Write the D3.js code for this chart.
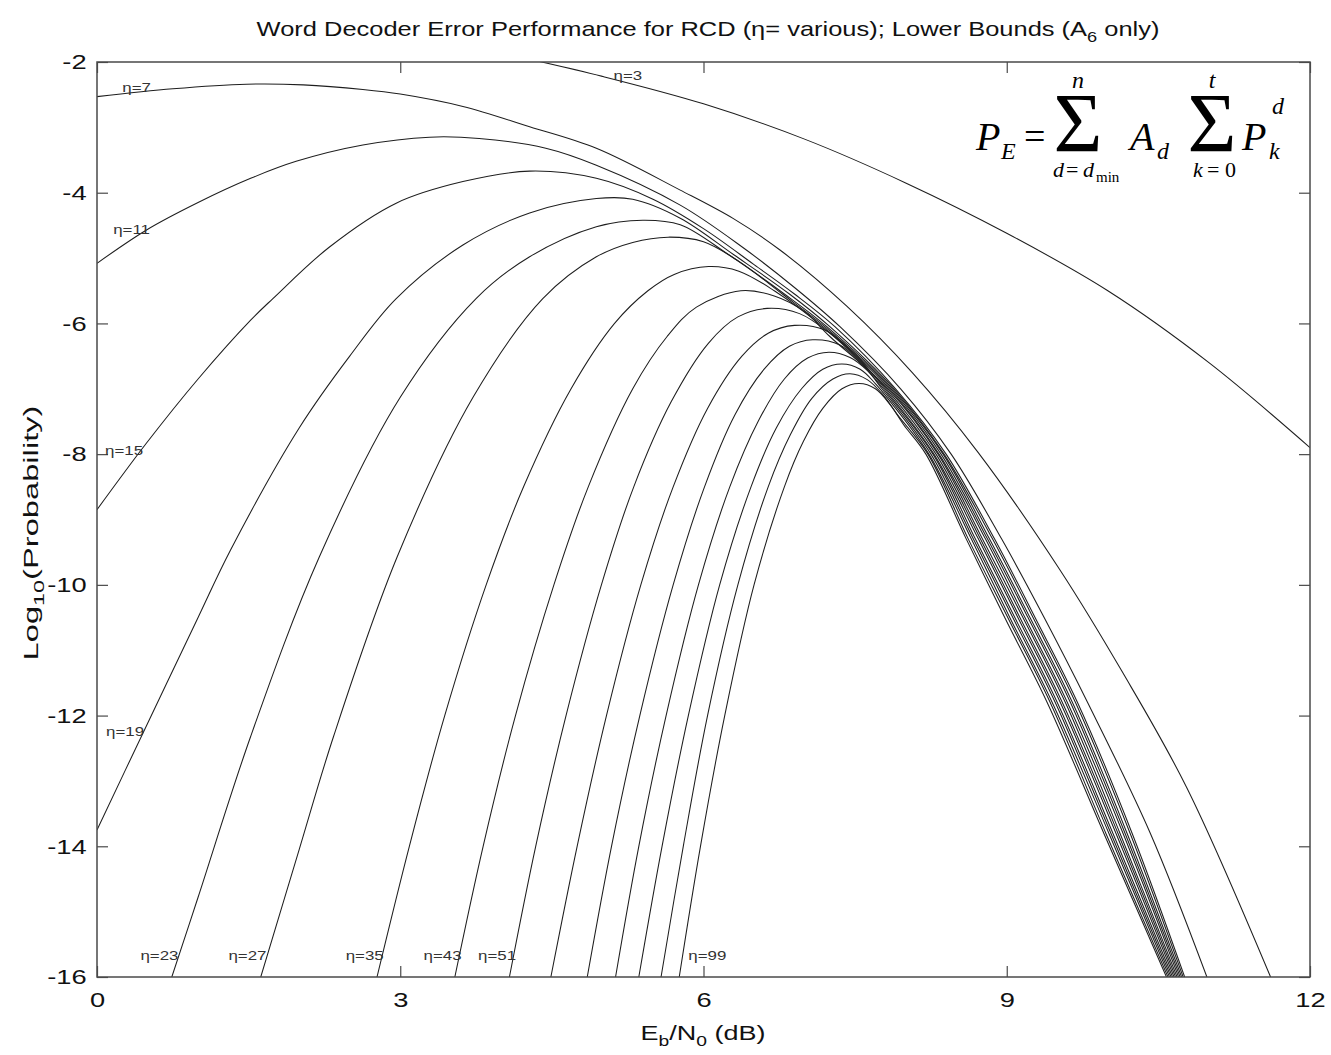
<!DOCTYPE html>
<html><head><meta charset="utf-8">
<script src="https://cdn.jsdelivr.net/npm/d3@7"></script>
<style>body{margin:0;background:#fff}svg{display:block}</style>
</head><body>
<svg id="c" width="1331" height="1055"></svg>
<script>
// ---------------- data ----------------
const xDomain = [0, 12];
const yDomain = [-16, -2];
const xTicks = [0, 3, 6, 9, 12];
const yTicks = [-2, -4, -6, -8, -10, -12, -14, -16];
const etaValues = [3, 7, 11, 15, 19, 23, 27, 35, 43, 51, 59, 67, 75, 83, 91, 99];

const eta3 = [[4.2,-1.93],[5.0,-2.22],[6.0,-2.64],[7.0,-3.18],[8.0,-3.85],[9.0,-4.62],[10.0,-5.5],[11.0,-6.6],[12.0,-7.9]];
const eta7 = [[0,-2.53],[0.75,-2.41],[1.48,-2.34],[2.04,-2.35],[2.63,-2.42],[3.0,-2.49],[3.62,-2.68],[4.28,-2.99],[4.94,-3.32],[5.77,-3.96],[6.3,-4.4],[6.76,-4.88],[7.42,-5.74],[8.07,-6.76],[8.72,-7.98],[9.53,-9.78],[10.15,-11.35],[10.78,-13.1],[11.61,-16]];
const eta11 = [[0,-5.08],[0.49,-4.57],[1.0,-4.15],[1.52,-3.78],[1.97,-3.52],[2.63,-3.27],[3.29,-3.15],[3.78,-3.17],[4.44,-3.32],[4.94,-3.58],[5.77,-4.19],[6.4,-4.85],[6.9,-5.45],[7.35,-6.05],[7.95,-7.0],[8.45,-8.0],[8.95,-9.3],[9.37,-10.5],[9.8,-11.8],[10.42,-13.8],[10.98,-16]];
const eta15 = [[0,-8.85],[0.49,-7.83],[1.0,-6.85],[1.52,-5.95],[1.74,-5.62],[2.3,-4.83],[2.96,-4.16],[3.62,-3.83],[4.28,-3.67],[4.94,-3.78],[5.5,-4.1],[6.0,-4.55],[6.5,-5.1],[6.9,-5.55],[7.3,-6.05],[7.9,-7.0],[8.4,-8.0],[8.88,-9.3],[9.28,-10.5],[9.7,-11.8],[10.24,-13.8],[10.76,-16]];
const eta19 = [[0,-13.75],[0.46,-12.25],[1.0,-10.5],[1.32,-9.47],[2.0,-7.6],[2.5,-6.5],[2.96,-5.62],[3.62,-4.8],[4.28,-4.31],[4.94,-4.09],[5.3,-4.1],[5.77,-4.39],[6.3,-4.95],[6.85,-5.55],[7.25,-6.05],[7.885,-7.0],[8.38,-8.0],[8.86,-9.3],[9.26,-10.5],[9.68,-11.8],[10.22,-13.8],[10.745,-16]];
const eta23 = [[0.74,-16],[1.0,-14.78],[1.52,-12.32],[2.2,-9.57],[3.0,-7.13],[3.75,-5.62],[4.28,-4.98],[4.94,-4.52],[5.4,-4.42],[5.77,-4.49],[6.25,-4.95],[6.8,-5.55],[7.22,-6.05],[7.87,-7.0],[8.37,-8.0],[8.83,-9.3],[9.23,-10.5],[9.65,-11.8],[10.19,-13.8],[10.73,-16]];
const eta27 = [[1.62,-16],[2.0,-14.05],[2.34,-12.32],[2.97,-9.57],[3.72,-7.13],[4.41,-5.62],[4.94,-4.98],[5.3,-4.76],[5.65,-4.68],[6.0,-4.75],[6.35,-5.05],[6.78,-5.55],[7.2,-6.05],[7.855,-7.0],[8.35,-8.0],[8.81,-9.3],[9.21,-10.5],[9.63,-11.8],[10.17,-13.8],[10.715,-16]];
const eta35 = [[2.77,-16],[3.09,-14],[3.44,-12],[3.85,-10],[4.22,-8.5],[4.69,-7.0],[5.12,-6.0],[5.45,-5.5],[5.71,-5.25],[6.05,-5.13],[6.35,-5.2],[6.7,-5.5],[7.18,-6.05],[7.84,-7.0],[8.33,-8.0],[8.79,-9.3],[9.18,-10.5],[9.6,-11.8],[10.15,-13.8],[10.7,-16]];
const eta43 = [[3.54,-16],[3.82,-14],[4.14,-12],[4.52,-10],[4.86,-8.5],[5.3,-7.0],[5.64,-6.2],[5.93,-5.75],[6.37,-5.5],[6.7,-5.58],[7.0,-5.82],[7.25,-6.2],[7.825,-7.0],[8.32,-8.0],[8.76,-9.3],[9.16,-10.5],[9.58,-11.8],[10.12,-13.8],[10.685,-16]];
const eta51 = [[4.08,-16],[4.34,-14],[4.64,-12],[4.99,-10],[5.31,-8.5],[5.68,-7.2],[6.05,-6.3],[6.34,-5.9],[6.63,-5.77],[6.95,-5.85],[7.25,-6.15],[7.5,-6.5],[7.81,-7.0],[8.3,-8.0],[8.74,-9.3],[9.13,-10.5],[9.55,-11.8],[10.1,-13.8],[10.67,-16]];
const eta59 = [[4.49,-16],[4.75,-14],[5.04,-12],[5.38,-10],[5.7,-8.5],[6.04,-7.3],[6.38,-6.5],[6.64,-6.15],[6.9,-6.03],[7.2,-6.1],[7.45,-6.4],[7.795,-7.0],[8.28,-8.0],[8.72,-9.3],[9.11,-10.5],[9.53,-11.8],[10.08,-13.8],[10.655,-16]];
const eta67 = [[4.85,-16],[5.09,-14],[5.37,-12],[5.7,-10],[6.01,-8.5],[6.31,-7.4],[6.6,-6.7],[6.85,-6.35],[7.08,-6.25],[7.35,-6.33],[7.55,-6.6],[7.78,-7.0],[8.27,-8.0],[8.69,-9.3],[9.08,-10.5],[9.5,-11.8],[10.05,-13.8],[10.64,-16]];
const eta75 = [[5.13,-16],[5.36,-14],[5.63,-12],[5.95,-10],[6.26,-8.5],[6.54,-7.5],[6.8,-6.85],[7.03,-6.53],[7.24,-6.44],[7.45,-6.52],[7.62,-6.72],[7.765,-7.0],[8.25,-8.0],[8.67,-9.3],[9.06,-10.5],[9.48,-11.8],[10.03,-13.8],[10.625,-16]];
const eta83 = [[5.36,-16],[5.59,-14],[5.85,-12],[6.16,-10],[6.47,-8.5],[6.72,-7.6],[6.97,-7.0],[7.18,-6.7],[7.37,-6.62],[7.55,-6.7],[7.7,-6.92],[7.85,-7.2],[8.23,-8.0],[8.65,-9.3],[9.03,-10.5],[9.45,-11.8],[10.01,-13.8],[10.61,-16]];
const eta91 = [[5.58,-16],[5.8,-14],[6.04,-12],[6.34,-10],[6.64,-8.5],[6.86,-7.7],[7.07,-7.15],[7.28,-6.85],[7.45,-6.77],[7.62,-6.86],[7.78,-7.1],[7.92,-7.4],[8.22,-8.0],[8.62,-9.3],[9.01,-10.5],[9.43,-11.8],[9.98,-13.8],[10.595,-16]];
const eta99 = [[5.76,-16],[5.97,-14],[6.21,-12],[6.5,-10],[6.8,-8.5],[6.99,-7.8],[7.18,-7.3],[7.37,-7.0],[7.54,-6.92],[7.7,-7.0],[7.85,-7.25],[7.98,-7.55],[8.2,-8.0],[8.6,-9.3],[8.98,-10.5],[9.4,-11.8],[9.96,-13.8],[10.58,-16]];

const series = [eta3, eta7, eta11, eta15, eta19, eta23, eta27, eta35, eta43, eta51, eta59, eta67, eta75, eta83, eta91, eta99];

const labelEtas = [3, 7, 11, 15, 19, 23, 27, 35, 43, 51, 99];
const labelX = [5.11, 0.25, 0.16, 0.08, 0.09, 0.43, 1.30, 2.46, 3.23, 3.77, 5.85];
const labelY = [-2.28, -2.46, -4.63, -8.01, -12.31, -15.74, -15.74, -15.74, -15.74, -15.74, -15.74];

// ---------------- layout ----------------
const W = 1331, H = 1055;
const M = {top: 62, right: 21, bottom: 78, left: 97};
const svg = d3.select("#c");
const FONT = "'Liberation Sans', Arial, Helvetica, sans-serif";
const SERIF = "'Liberation Serif', 'Times New Roman', serif";

const x = d3.scaleLinear().domain(xDomain).range([M.left, W - M.right]);
const y = d3.scaleLinear().domain(yDomain).range([H - M.bottom, M.top]);

svg.append("rect").attr("width", W).attr("height", H).attr("fill", "#fff");

svg.append("defs").append("clipPath").attr("id", "clip").append("rect")
  .attr("x", M.left).attr("y", M.top)
  .attr("width", W - M.left - M.right).attr("height", H - M.top - M.bottom);

// curves
const line = d3.line().x(d => x(d[0])).y(d => y(d[1])).curve(d3.curveCatmullRom.alpha(0.5));
svg.append("g").attr("clip-path", "url(#clip)")
  .selectAll("path").data(series).join("path")
  .attr("d", line).attr("fill", "none")
  .attr("stroke", "#1e1e1e").attr("stroke-width", 1.05);

// axes (MATLAB style inward ticks on all sides)
const TK = 11;
const axisColor = "#4a4a4a";
function styleAxis(g) {
  g.select(".domain").remove();
  g.selectAll(".tick line").attr("stroke", axisColor).attr("stroke-width", 1.2);
}
const gx = svg.append("g").attr("transform", `translate(0,${H - M.bottom})`)
  .call(d3.axisBottom(x).tickValues(xTicks).tickSize(-TK).tickSizeOuter(0).tickPadding(15).tickFormat(d => String(d)));
styleAxis(gx);
gx.selectAll("text").attr("font-size", 21).attr("font-family", FONT).attr("fill", "#111")
  .attr("transform", "scale(1.3,1)");

const gy = svg.append("g").attr("transform", `translate(${M.left},0)`)
  .call(d3.axisLeft(y).tickValues(yTicks).tickSize(-TK).tickSizeOuter(0).tickPadding(8).tickFormat(d => String(d)));
styleAxis(gy);
gy.selectAll("text").attr("font-size", 21).attr("font-family", FONT).attr("fill", "#111")
  .attr("transform", "scale(1.3,1)");

const gt = svg.append("g").attr("transform", `translate(0,${M.top})`)
  .call(d3.axisTop(x).tickValues(xTicks).tickSize(-TK).tickSizeOuter(0).tickFormat(""));
styleAxis(gt);
const gr = svg.append("g").attr("transform", `translate(${W - M.right},0)`)
  .call(d3.axisRight(y).tickValues(yTicks).tickSize(-TK).tickSizeOuter(0).tickFormat(""));
styleAxis(gr);

// frame
svg.append("rect").attr("x", M.left).attr("y", M.top)
  .attr("width", W - M.left - M.right).attr("height", H - M.top - M.bottom)
  .attr("fill", "none").attr("stroke", axisColor).attr("stroke-width", 1.5);

// eta labels
svg.append("g").selectAll("text").data(labelEtas).join("text")
  .attr("transform", (d, i) => `translate(${x(labelX[i])},${y(labelY[i])}) scale(1.3,1)`)
  .attr("font-size", 13).attr("font-family", FONT).attr("fill", "#333")
  .text(d => "η=" + d);

// helper: fit a text group horizontally to a target width
function fitText(t, cx, cy, target, anchor) {
  const w = t.node().getBBox().width;
  const s = target / w;
  t.attr("transform", `translate(${cx},${cy}) scale(${s},1)`).attr("text-anchor", anchor || "middle");
}

// title
const title = svg.append("text").attr("font-size", 21).attr("font-family", FONT).attr("fill", "#111");
title.append("tspan").text("Word Decoder Error Performance for RCD (η= various); Lower Bounds (A");
title.append("tspan").attr("font-size", 15).attr("dy", 6).text("6");
title.append("tspan").attr("dy", -6).text(" only)");
title.attr("text-anchor", "middle");
fitText(title, 708, 36, 903);

// x label
const xl = svg.append("text").attr("font-size", 21).attr("font-family", FONT).attr("fill", "#111").attr("text-anchor", "middle");
xl.append("tspan").text("E");
xl.append("tspan").attr("font-size", 15).attr("dy", 6).text("b");
xl.append("tspan").attr("dy", -6).text("/N");
xl.append("tspan").attr("font-size", 15).attr("dy", 6).text("0");
xl.append("tspan").attr("dy", -6).text(" (dB)");
fitText(xl, 703, 1040, 125);

// y label
const ylG = svg.append("g").attr("transform", "translate(38,533) rotate(-90)");
const yl = ylG.append("text").attr("font-size", 21).attr("font-family", FONT).attr("fill", "#111").attr("text-anchor", "middle");
yl.append("tspan").text("Log");
yl.append("tspan").attr("font-size", 15).attr("dy", 6).text("10");
yl.append("tspan").attr("dy", -6).text("(Probability)");
fitText(yl, 0, 0, 255);

// formula
const F = svg.append("g").attr("font-family", SERIF).attr("fill", "#000");
function ft(xp, yp, size, txt, italic, anchor) {
  return F.append("text").attr("x", xp).attr("y", yp).attr("font-size", size)
    .attr("text-anchor", anchor || "start")
    .attr("font-style", italic ? "italic" : "normal").text(txt);
}
ft(976, 150, 40, "P", true);
ft(1001, 159, 24, "E", true);
ft(1024, 149, 38, "=", false);
ft(1078, 152, 84, "Σ", false, "middle");
ft(1078, 88, 24, "n", true, "middle");
ft(1053, 177, 22, "d", true);
ft(1066, 177, 22, "=", false);
ft(1083, 177, 22, "d", true);
ft(1096, 182, 15, "min", false);
ft(1130, 150, 40, "A", true);
ft(1157, 159, 24, "d", true);
ft(1212, 152, 84, "Σ", false, "middle");
ft(1212, 88, 24, "t", true, "middle");
ft(1193, 177, 22, "k", true);
ft(1207, 177, 22, "=", false);
ft(1225, 177, 22, "0", false);
ft(1242, 150, 40, "P", true);
ft(1269, 159, 24, "k", true);
ft(1272, 114, 24, "d", true);
</script>
</body></html>
